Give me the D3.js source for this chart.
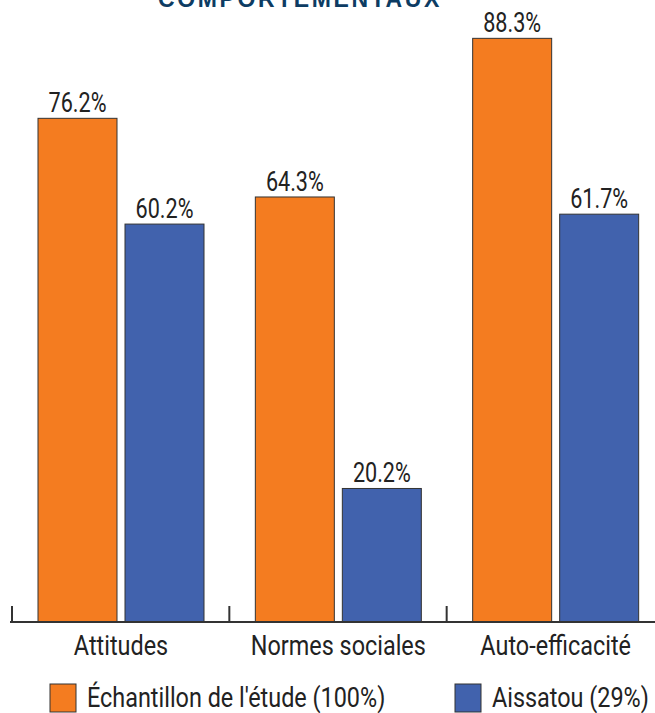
<!DOCTYPE html>
<html>
<head>
<meta charset="utf-8">
<script src="https://cdn.jsdelivr.net/npm/d3@7"></script>
<style>
  html, body { margin: 0; padding: 0; background: #fff; }
  svg { display: block; }
  text { font-family: Roboto, "Noto Sans", sans-serif; }
</style>
</head>
<body>
<svg id="chart" width="655" height="713"></svg>
<script>
// Data
const categories = ["Attitudes", "Normes sociales", "Auto-efficacité"];
const seriesNames = ["Échantillon de l'étude (100%)", "Aissatou (29%)"];
const etude = [76.2, 64.3, 88.3];
const aissatou = [60.2, 20.2, 61.7];
const colors = ["#f47c20", "#4162ad"];
const title = "COMPORTEMENTAUX";

const W = 655, H = 713;
const svg = d3.select("#chart");
// horizontal squeeze giving the narrow, condensed lettering
const condenseLabel = 0.836;
const condenseValue = 0.8;
const textWeight = 400;

// Scales
const x0 = d3.scaleBand().domain(categories).range([12, 664]).paddingInner(0).paddingOuter(0);
const x1 = d3.scaleBand().domain([0, 1]).range([26, 192]).paddingInner(0.092).paddingOuter(0);
const y = d3.scaleLinear().domain([0, 100]).range([622, -39]);

// Title (partly above the top edge)
svg.append("text")
  .attr("x", 300).attr("y", 7)
  .attr("text-anchor", "middle")
  .attr("font-size", 23).attr("font-weight", 900)
  .attr("letter-spacing", 2.6)
  .attr("fill", "#0d3c63")
  .style("font-family", "Arial, 'Liberation Sans', sans-serif")
  .text(title);

const rows = categories.map((c, i) => ({ cat: c, vals: [etude[i], aissatou[i]] }));

const groups = svg.selectAll("g.grp").data(rows).join("g")
  .attr("class", "grp")
  .attr("transform", d => `translate(${x0(d.cat)},0)`);

groups.selectAll("rect").data(d => d.vals).join("rect")
  .attr("x", (v, j) => x1(j))
  .attr("y", v => y(v))
  .attr("width", x1.bandwidth())
  .attr("height", v => y(0) - y(v))
  .attr("fill", (v, j) => colors[j])
  .attr("stroke", "#333")
  .attr("stroke-width", 1);

groups.selectAll("text.val").data(d => d.vals).join("text")
  .attr("class", "val")
  .attr("transform", (v, j) => `translate(${x1(j) + x1.bandwidth() / 2},${y(v) - 6}) scale(${condenseValue},1)`)
  .attr("text-anchor", "middle")
  .attr("font-size", 27)
  .attr("font-weight", textWeight)
  .attr("fill", "#222")
  .text(v => v.toFixed(1) + "%");

// Axis line and group ticks
svg.append("line")
  .attr("x1", 10).attr("x2", W).attr("y1", y(0)).attr("y2", y(0))
  .attr("stroke", "#333").attr("stroke-width", 2);
svg.selectAll("line.tk").data(categories).join("line")
  .attr("class", "tk")
  .attr("x1", d => x0(d)).attr("x2", d => x0(d))
  .attr("y1", y(0) - 16).attr("y2", y(0))
  .attr("stroke", "#333").attr("stroke-width", 2);
svg.selectAll("text.cat").data(categories).join("text")
  .attr("class", "cat")
  .attr("transform", d => `translate(${x0(d) + (x1(0) + x1(1) + x1.bandwidth()) / 2},${y(0) + 33}) scale(${condenseLabel},1)`)
  .attr("text-anchor", "middle")
  .attr("font-size", 28)
  .attr("font-weight", textWeight)
  .attr("fill", "#222")
  .text(d => d);

// Legend
const legendX = [50, 455];
const lg = svg.selectAll("g.lg").data(seriesNames).join("g")
  .attr("class", "lg")
  .attr("transform", (d, i) => `translate(${legendX[i]},684)`);
lg.append("rect")
  .attr("width", 26).attr("height", 28)
  .attr("fill", (d, i) => colors[i])
  .attr("stroke", "#333").attr("stroke-width", 1);
lg.append("text")
  .attr("transform", `translate(37,23) scale(${condenseLabel},1)`)
  .attr("font-size", 28)
  .attr("font-weight", textWeight)
  .attr("fill", "#222")
  .text(d => d);
</script>
</body>
</html>
